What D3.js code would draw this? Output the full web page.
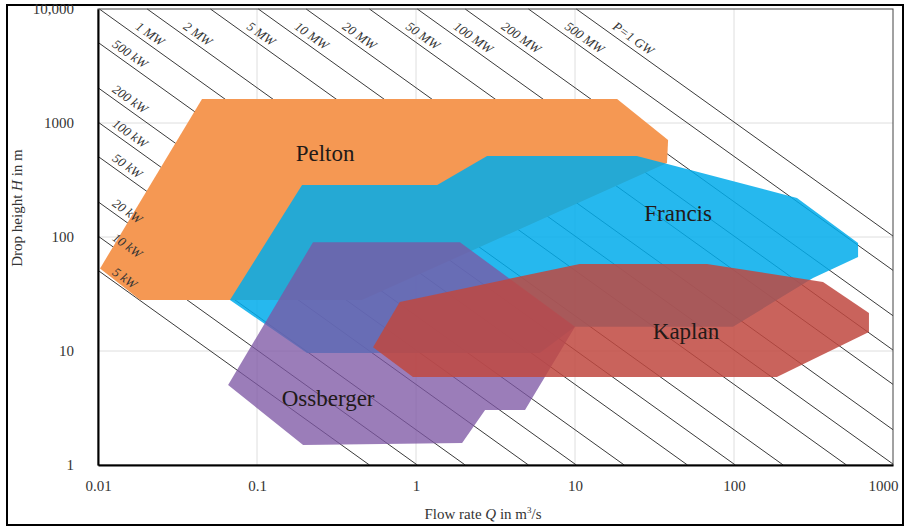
<!DOCTYPE html>
<html>
<head>
<meta charset="utf-8">
<script src="https://cdn.jsdelivr.net/npm/d3@7"></script>
<style>
  body { margin: 0; background: #fff; }
  svg { display: block; font-family: "Liberation Serif", "Times New Roman", serif; }
</style>
</head>
<body>
<div id="chart"></div>
<script>
// application ranges of the turbine types, points are [Q in m3/s, H in m]
const pelton = [[0.0103, 53], [0.0184, 28], [0.457, 28], [37.9, 446], [38.5, 710], [18.4, 1626], [0.0451, 1626]];
const francis = [[0.0676, 28], [0.192, 286], [1.36, 286], [2.8, 514], [24.5, 514], [249, 220], [603, 88.5],
                 [603, 66.8], [314, 43.7], [98.6, 16.3], [10, 16.3], [6.0, 9.6], [0.206, 9.6]];
const ossberger = [[0.225, 90], [1.89, 90], [10, 16.3], [4.85, 3.03], [2.72, 3.03], [1.95, 1.56], [0.195, 1.5], [0.0658, 5.03]];
const kaplan = [[0.537, 10.8], [0.79, 26.9], [10.7, 58], [67.6, 58], [363, 40.3], [706, 21.5], [706, 14.7], [186, 5.9], [0.957, 5.9]];

const turbineNames = ['Pelton', 'Francis', 'Ossberger', 'Kaplan'];
const turbineLabelAt = [[0.268, 546], [44.5, 163], [0.28, 3.9], [49.9, 15]];

// lines of constant power P = rho * g * Q * H
const powerLevels = [5e3, 1e4, 2e4, 5e4, 1e5, 2e5, 5e5, 1e6, 2e6, 5e6, 1e7, 2e7, 5e7, 1e8, 2e8, 5e8, 1e9];
const powerLabels = ['5 kW', '10 kW', '20 kW', '50 kW', '100 kW', '200 kW', '500 kW', '1 MW', '2 MW', '5 MW',
                     '10 MW', '20 MW', '50 MW', '100 MW', '200 MW', '500 MW', 'P=1 GW'];

const xTicks = [0.01, 0.1, 1, 10, 100, 1000];
const xTickLabels = ['0.01', '0.1', '1', '10', '100', '1000'];
const yTicks = [1, 10, 100, 1000, 10000];
const yTickLabels = ['1', '10', '100', '1000', '10,000'];

class TurbineChart {

  constructor(_config) {
    this.config = {
      parentElement: _config.parentElement,
      containerWidth: _config.containerWidth || 907,
      containerHeight: _config.containerHeight || 528,
      margin: _config.margin || {top: 9, right: 14, bottom: 63, left: 98},
      rhoG: 9810
    }
    this.initVis();
  }

  initVis() {
    let vis = this;

    vis.width = vis.config.containerWidth - vis.config.margin.left - vis.config.margin.right;
    vis.height = vis.config.containerHeight - vis.config.margin.top - vis.config.margin.bottom;

    vis.svg = d3.select(vis.config.parentElement).append('svg')
        .attr('width', vis.config.containerWidth)
        .attr('height', vis.config.containerHeight);

    // outer frame round the whole picture
    vis.svg.append('rect')
        .attr('x', 7).attr('y', 5)
        .attr('width', vis.config.containerWidth - 11)
        .attr('height', vis.config.containerHeight - 8)
        .attr('fill', 'none')
        .attr('stroke', '#000')
        .attr('stroke-width', 2);

    vis.xScale = d3.scaleLog().domain([0.01, 1000]).range([0, vis.width]);
    vis.yScale = d3.scaleLog().domain([1, 10000]).range([vis.height, 0]);

    vis.chart = vis.svg.append('g')
        .attr('transform', `translate(${vis.config.margin.left},${vis.config.margin.top})`);

    // gridlines
    vis.chart.append('g').selectAll('line')
        .data(xTicks.slice(1, -1))
      .join('line')
        .attr('x1', d => vis.xScale(d)).attr('x2', d => vis.xScale(d))
        .attr('y1', 0).attr('y2', vis.height)
        .attr('stroke', '#dedede');
    vis.chart.append('g').selectAll('line')
        .data(yTicks.slice(1, -1))
      .join('line')
        .attr('y1', d => vis.yScale(d)).attr('y2', d => vis.yScale(d))
        .attr('x1', 0).attr('x2', vis.width)
        .attr('stroke', '#dedede');

    vis.drawPowerLines();
    vis.drawAreas();
    vis.drawPowerLabels();

    // plot frame
    vis.chart.append('rect')
        .attr('width', vis.width)
        .attr('height', vis.height)
        .attr('fill', 'none')
        .attr('stroke', '#444')
        .attr('stroke-width', 1);

    vis.xAxis = d3.axisBottom(vis.xScale)
        .tickValues(xTicks)
        .tickFormat((d, i) => xTickLabels[i])
        .tickSize(0)
        .tickPadding(15);
    vis.yAxis = d3.axisLeft(vis.yScale)
        .tickValues(yTicks)
        .tickFormat((d, i) => yTickLabels[i])
        .tickSize(0)
        .tickPadding(24);

    vis.xAxisG = vis.chart.append('g')
        .attr('transform', `translate(0,${vis.height})`)
        .call(vis.xAxis);
    vis.yAxisG = vis.chart.append('g')
        .call(vis.yAxis);

    [vis.xAxisG, vis.yAxisG].forEach(g => {
      g.select('.domain').attr('stroke', '#000').attr('stroke-width', 2);
      g.selectAll('text')
          .attr('font-family', '"Liberation Serif", serif')
          .attr('font-size', 15)
          .attr('fill', '#333');
    });
    // last x label is pushed in a little so it stays inside the frame
    vis.xAxisG.selectAll('.tick:last-of-type text').attr('dx', -10);

    // axis titles
    let xTitle = vis.svg.append('text')
        .attr('x', 483)
        .attr('y', 519)
        .attr('text-anchor', 'middle')
        .attr('font-size', 15)
        .attr('fill', '#333');
    xTitle.append('tspan').text('Flow rate ');
    xTitle.append('tspan').attr('font-style', 'italic').text('Q');
    xTitle.append('tspan').text(' in m');
    xTitle.append('tspan').attr('font-size', 9).attr('dy', -6).text('3');
    xTitle.append('tspan').attr('dy', 6).text('/s');

    let yTitle = vis.svg.append('text')
        .attr('transform', 'translate(22,208) rotate(-90)')
        .attr('text-anchor', 'middle')
        .attr('font-size', 15)
        .attr('fill', '#333');
    yTitle.append('tspan').text('Drop height ');
    yTitle.append('tspan').attr('font-style', 'italic').text('H');
    yTitle.append('tspan').text(' in m');
  }

  drawPowerLines() {
    let vis = this;
    const k = vis.config.rhoG;
    const [qMin, qMax] = vis.xScale.domain();
    const [hMin, hMax] = vis.yScale.domain();

    // clip every line to the plot box
    vis.segs = powerLevels.map((p, i) => {
      let q0 = qMin, h0 = p / (k * qMin);
      let fromTop = false;
      if (h0 > hMax) { h0 = hMax; q0 = p / (k * hMax); fromTop = true; }
      let q1 = qMax, h1 = p / (k * qMax);
      if (h1 < hMin) { h1 = hMin; q1 = p / (k * hMin); }
      return {
        x0: vis.xScale(q0), y0: vis.yScale(h0),
        x1: vis.xScale(q1), y1: vis.yScale(h1),
        fromTop: fromTop, label: powerLabels[i]
      };
    });

    vis.chart.append('g').selectAll('line')
        .data(vis.segs)
      .join('line')
        .attr('x1', d => d.x0).attr('y1', d => d.y0)
        .attr('x2', d => d.x1).attr('y2', d => d.y1)
        .attr('stroke', '#3a3a3a')
        .attr('stroke-width', 1);
  }

  drawPowerLabels() {
    let vis = this;
    // labels sit on top of the coloured areas
    vis.chart.append('g').selectAll('text')
        .data(vis.segs)
      .join('text')
        .attr('transform', d => {
          const a = Math.atan2(d.y1 - d.y0, d.x1 - d.x0);
          const dist = d.fromTop ? 40 : 13;
          const x = d.x0 + dist * Math.cos(a);
          const y = d.y0 + dist * Math.sin(a);
          return `translate(${x},${y}) rotate(${a * 180 / Math.PI})`;
        })
        .attr('dy', -5)
        .attr('font-size', 13)
        .attr('font-style', 'italic')
        .attr('fill', '#333')
        .text(d => d.label);
  }

  drawAreas() {
    let vis = this;

    const areas = [
      {pts: pelton, color: '#f59853', opacity: 1},
      {pts: francis, color: 'rgb(0,172,235)', opacity: 0.85},
      {pts: ossberger, color: '#7d56a4', opacity: 0.77},
      {pts: kaplan, color: '#c04840', opacity: 0.85}
    ];

    const line = d3.line()
        .x(d => vis.xScale(d[0]))
        .y(d => vis.yScale(d[1]))
        .curve(d3.curveLinearClosed);

    vis.chart.append('g').selectAll('path')
        .data(areas)
      .join('path')
        .attr('d', d => line(d.pts))
        .attr('fill', d => d.color)
        .attr('fill-opacity', d => d.opacity);

    vis.chart.append('g').selectAll('text')
        .data(turbineNames)
      .join('text')
        .attr('x', (d, i) => vis.xScale(turbineLabelAt[i][0]))
        .attr('y', (d, i) => vis.yScale(turbineLabelAt[i][1]))
        .attr('dy', '0.35em')
        .attr('text-anchor', 'middle')
        .attr('font-size', 23)
        .attr('fill', '#221a18')
        .text(d => d);
  }
}

const chart = new TurbineChart({parentElement: '#chart'});
</script>
</body>
</html>
